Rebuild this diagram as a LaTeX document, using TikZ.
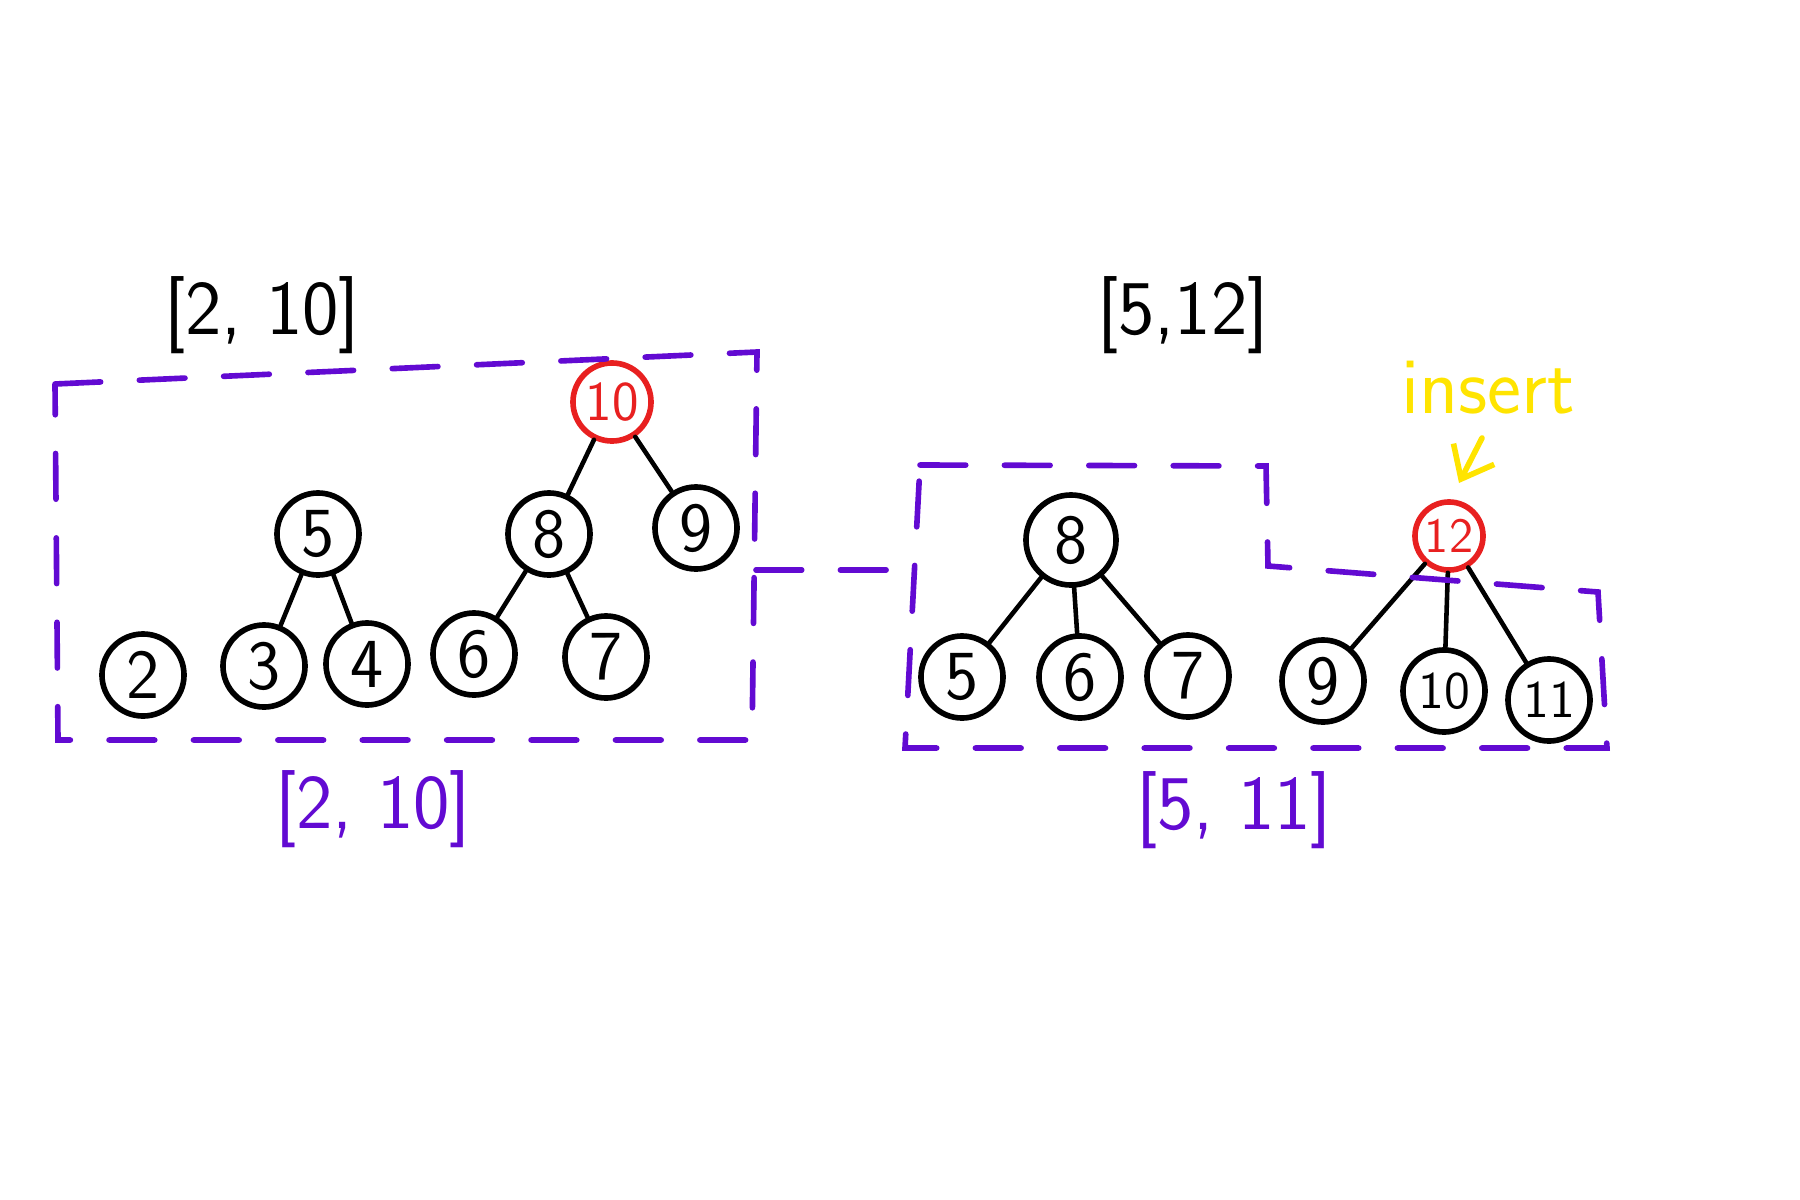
\documentclass[tikz,border=0pt]{standalone}
\usepackage{xcolor}
\definecolor{inkred}{RGB}{232,32,32}
\definecolor{inkpurple}{RGB}{98,10,210}
\definecolor{inkyellow}{RGB}{255,228,0}
\usepackage{tikz}
\usetikzlibrary{arrows.meta}

\begin{document}
\begin{tikzpicture}[x=0.01cm, y=-0.01cm,
    key/.style={circle, draw=black, line width=1.6pt,
                minimum size=0.82cm, inner sep=0pt,
                font=\sffamily\fontsize{20}{24}\selectfont},
    bigkey/.style={key, font=\sffamily\fontsize{15}{18}\selectfont},
    newkey/.style={key, draw=inkred, text=inkred, minimum size=0.78cm,
                   font=\sffamily\fontsize{16}{19}\selectfont},
    link/.style={line width=1.3pt, line cap=round},
    bound/.style={draw=inkpurple, line width=1.6pt, line cap=round,
                  dash pattern=on 13pt off 11pt},
    rng/.style={font=\sffamily\fontsize{22}{26}\selectfont},
    note/.style={font=\sffamily\fontsize{23}{27}\selectfont, text=inkyellow},
    arr/.style={-{Straight Barb[length=8pt, width=13pt]}, line width=1.6pt,
                line cap=round, inkyellow},
  ]
    \useasboundingbox (0,0) rectangle (1800,1200);

    \node[newkey] (l10) at (612,402) {10};
    \node[key] (l5) at (318,534) {5};
    \node[key] (l8) at (549,534) {8};
    \node[key] (l9) at (696,528) {9};
    \node[key] (l2) at (143,675) {2};
    \node[key] (l3) at (264,666) {3};
    \node[key] (l4) at (367,664) {4};
    \node[key] (l6) at (474,654) {6};
    \node[key] (l7) at (606,657) {7};

    \draw[link] (l10)--(l8);
    \draw[link] (l10)--(l9);
    \draw[link] (l5)--(l3);
    \draw[link] (l5)--(l4);
    \draw[link] (l8)--(l6);
    \draw[link] (l8)--(l7);

    \node[key, minimum size=0.9cm] (r8) at (1071,540) {8};
    \node[key] (r5) at (962,677) {5};
    \node[key] (r6) at (1080,677) {6};
    \node[key] (r7) at (1188,676) {7};
    \node[newkey, minimum size=0.68cm,
          font=\sffamily\fontsize{14}{17}\selectfont] (r12) at (1449,536) {12};
    \node[key] (r9) at (1323,681) {9};
    \node[bigkey] (r10) at (1444,691) {10};
    \node[bigkey] (r11) at (1549,700) {11};

    \draw[link] (r8)--(r5);
    \draw[link] (r8)--(r6);
    \draw[link] (r8)--(r7);
    \draw[link] (r12)--(r9);
    \draw[link] (r12)--(r10);
    \draw[link] (r12)--(r11);

    \draw[bound] (55,384) -- (757,352) -- (752,740) -- (58,740) -- cycle;
    \draw[bound] (920,465) -- (1266,466) -- (1268,566) -- (1598,592)
                 -- (1607,748) -- (905,748) -- cycle;
    \coordinate (joinL) at (756,570);
    \coordinate (joinR) at (910,570);
    \draw[bound] (joinL) -- (joinR);

    \node[rng] (lblL) at (262,315) {[2, 10]};
    \node[rng] (lblR) at (1183,315) {[5,12]};
    \node[rng, text=inkpurple] (rngL) at (373,809) {[2, 10]};
    \node[rng, text=inkpurple] (rngR) at (1234,810) {[5, 11]};

    \node[note] (ins) at (1488,388) {insert};
    \coordinate (insTail) at (1482,438);
    \coordinate (insHead) at (1459,483);
    \draw[arr] (insTail) -- (insHead);
  \end{tikzpicture}
\end{document}
